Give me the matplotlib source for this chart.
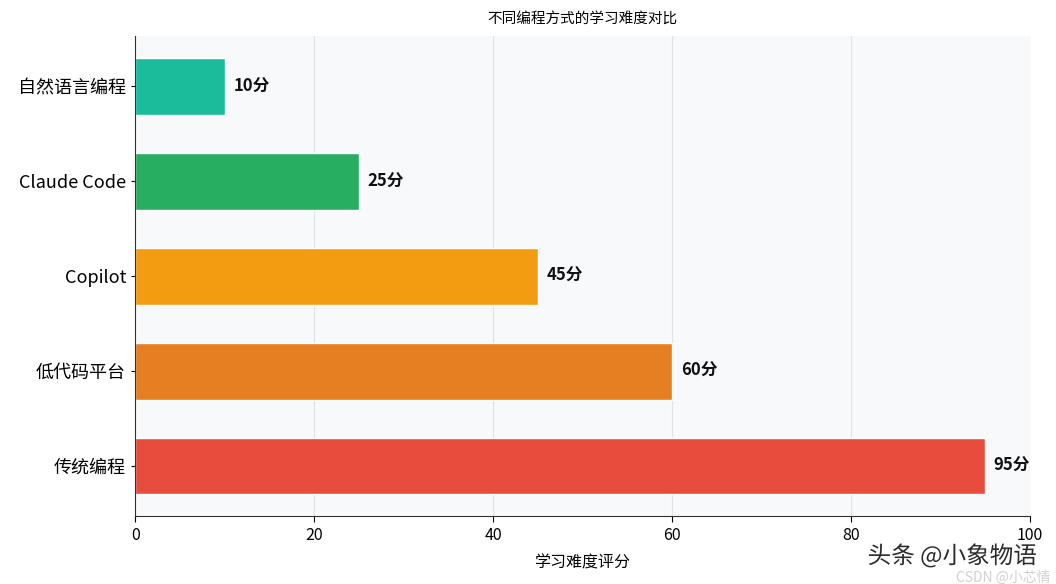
import matplotlib.pyplot as plt
import matplotlib.patheffects as pe

plt.rcParams['font.family'] = ['Noto Sans CJK SC', 'DejaVu Sans']

# data (bottom to top)
methods = ["传统编程", "低代码平台", "Copilot", "Claude Code", "自然语言编程"]
scores = [95, 60, 45, 25, 10]
colors = ["#e74c3c", "#e67e22", "#f39c12", "#27ae60", "#1abc9c"]
x_ticks = [0, 20, 40, 60, 80, 100]

fig = plt.figure(figsize=(10.56, 5.84), dpi=100)
ax = fig.add_axes([0.128, 0.116, 0.847, 0.822])
ax.set_facecolor("#f8f9fb")

bars = ax.barh(methods, scores, height=0.6, color=colors, edgecolor="white", linewidth=1)

# value labels
for bar, s in zip(bars, scores):
    ax.text(bar.get_width() + 1, bar.get_y() + bar.get_height() / 2, f"{s}分",
            va="center", ha="left", fontsize=12, fontweight="bold", color="#111111")

ax.set_xlim(0, 100)
ax.set_xticks(x_ticks)
ax.tick_params(axis="x", labelsize=11.5, length=4)
ax.tick_params(axis="y", labelsize=13, length=3)
ax.set_xlabel("学习难度评分", fontsize=11.5, labelpad=8)
ax.set_title("不同编程方式的学习难度对比", fontsize=10.5, pad=10)

ax.grid(axis="x", color="#dfe3e8", linewidth=0.8)
ax.set_axisbelow(True)
ax.spines["top"].set_visible(False)
ax.spines["right"].set_visible(False)
ax.spines["left"].set_color("#333333")
ax.spines["bottom"].set_color("#333333")

# watermarks
fig.text(0.982, 0.048, "头条 @小象物语", ha="right", va="center", fontsize=17,
         color="#2b2b2b", path_effects=[pe.withStroke(linewidth=3, foreground="white")])
fig.text(0.995, 0.010, "CSDN @小芯情", ha="right", va="center", fontsize=10,
         color="#cccccc", alpha=0.9)

fig.savefig("out.png", dpi=100)
